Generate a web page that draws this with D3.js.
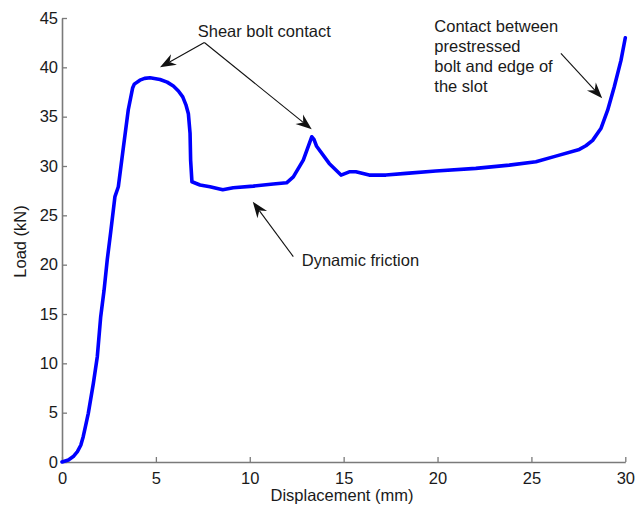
<!DOCTYPE html>
<html>
<head>
<meta charset="utf-8">
<script src="https://cdn.jsdelivr.net/npm/d3@7"></script>
<style>
  html, body { margin: 0; padding: 0; background: #fff; }
  svg { display: block; }
  text { font-family: "Liberation Sans", Arial, sans-serif; fill: #1a1a1a; }
</style>
</head>
<body>
<svg id="chart" width="636" height="507"></svg>
<script>
// ---- data ----
const displacement = [0, 0.34, 0.6, 0.82, 1.0, 1.13, 1.25, 1.40, 1.67, 1.88, 2.06, 2.24, 2.41, 2.6, 2.82, 3.0, 3.27, 3.53, 3.76,
  3.85, 4.15, 4.4, 4.69, 5.22, 5.6, 5.93, 6.2, 6.43, 6.6, 6.73, 6.82, 6.85, 6.92, 7.35, 7.88, 8.56, 9.12, 10.19, 11.25, 11.96,
  12.32, 12.85, 13.3, 13.42, 13.56, 14.23, 14.86, 15.30, 15.65, 16.36, 17.25, 18.32, 19.91, 22.04, 23.82, 25.24,
  26.3, 27.55, 27.9, 28.26, 28.7, 29.06, 29.41, 29.77, 30.0];
const load = [0, 0.2, 0.55, 1.05, 1.7, 2.57, 3.6, 4.93, 7.97, 10.67, 14.7, 17.4, 20.5, 23.4, 26.9, 27.9, 31.9, 35.7, 37.9,
  38.3, 38.7, 38.88, 38.94, 38.77, 38.5, 38.1, 37.6, 37.0, 36.2, 35.3, 33.3, 30.6, 28.4, 28.07, 27.9, 27.6, 27.8, 27.96, 28.17, 28.3,
  28.9, 30.6, 32.96, 32.7, 32.0, 30.26, 29.08, 29.41, 29.41, 29.08, 29.08, 29.25, 29.5, 29.76, 30.09, 30.43,
  31.0, 31.68, 32.05, 32.6, 33.8, 35.66, 38.0, 40.7, 43.0];
const xTicks = [0, 5, 10, 15, 20, 25, 30];
const yTicks = [0, 5, 10, 15, 20, 25, 30, 35, 40, 45];
const xLabel = "Displacement (mm)";
const yLabel = "Load (kN)";

// annotations in data units
const annotations = [
  { lines: ["Shear bolt contact"], tx: 7.23, ty: 43.12,
    arrows: [ { x0: 7.58, y0: 42.52, x1: 5.22, y1: 40.0 }, { x0: 7.58, y0: 42.52, x1: 13.30, y1: 33.72 } ] },
  { lines: ["Dynamic friction"], tx: 12.77, ty: 19.87,
    arrows: [ { x0: 12.32, y0: 20.81, x1: 10.16, y1: 26.38 } ] },
  { lines: ["Contact between", "prestressed", "bolt and edge of", "the slot"], tx: 19.83, ty: 43.61,
    arrows: [ { x0: 26.57, y0: 41.42, x1: 28.77, y1: 36.86 } ] }
];

// ---- layout ----
const svg = d3.select("#chart");
const x = d3.scaleLinear().domain([0, 30]).range([62, 625.3]);
const y = d3.scaleLinear().domain([0, 45]).range([462, 18]);
const fontSize = 16.5;
const axisColor = "#7a7a7a";

// axes
const xAxis = svg.append("g").attr("transform", `translate(0,${y(0)})`)
  .call(d3.axisBottom(x).tickValues(xTicks).tickSizeInner(-5).tickSizeOuter(0).tickPadding(10).tickFormat(d3.format("d")));
const yAxis = svg.append("g").attr("transform", `translate(${x(0)},0)`)
  .call(d3.axisLeft(y).tickValues(yTicks).tickSizeInner(-5).tickSizeOuter(0).tickPadding(4).tickFormat(d3.format("d")));
[xAxis, yAxis].forEach(g => {
  g.select(".domain").attr("stroke", axisColor).attr("stroke-width", 1.6);
  g.selectAll(".tick line").attr("stroke", axisColor).attr("stroke-width", 1.3);
  g.selectAll(".tick text").attr("font-size", fontSize).attr("font-family", "Liberation Sans, Arial, sans-serif").attr("fill", "#1a1a1a");
});

// axis labels
svg.append("text").attr("x", 342).attr("y", 501).attr("text-anchor", "middle")
  .attr("font-size", fontSize).text(xLabel);
svg.append("text").attr("transform", "translate(26,241.5) rotate(-90)").attr("text-anchor", "middle")
  .attr("font-size", fontSize).text(yLabel);

// curve
const pts = displacement.map((d, i) => [d, load[i]]);
svg.append("path").datum(pts)
  .attr("fill", "none").attr("stroke", "#0000ff").attr("stroke-width", 3.6)
  .attr("stroke-linejoin", "round").attr("stroke-linecap", "round")
  .attr("d", d3.line().x(d => x(d[0])).y(d => y(d[1])).curve(d3.curveLinear));

// annotations
const headLen = 16, headHalf = 6, notch = 11;
annotations.forEach(a => {
  const t = svg.append("text").attr("x", x(a.tx)).attr("y", y(a.ty)).attr("font-size", fontSize);
  a.lines.forEach((ln, i) => {
    t.append("tspan").attr("x", x(a.tx)).attr("dy", i === 0 ? 0 : "1.21em").text(ln);
  });
  a.arrows.forEach(ar => {
    const X0 = x(ar.x0), Y0 = y(ar.y0), X1 = x(ar.x1), Y1 = y(ar.y1);
    const dx = X1 - X0, dy = Y1 - Y0, L = Math.hypot(dx, dy);
    const ux = dx / L, uy = dy / L, px = -uy, py = ux;
    svg.append("line").attr("x1", X0).attr("y1", Y0)
      .attr("x2", X1 - ux * notch).attr("y2", Y1 - uy * notch)
      .attr("stroke", "#111").attr("stroke-width", 1.1);
    const bx = X1 - ux * headLen, by = Y1 - uy * headLen;
    const nx = X1 - ux * notch, ny = Y1 - uy * notch;
    svg.append("path")
      .attr("d", `M${X1},${Y1}L${bx + px * headHalf},${by + py * headHalf}L${nx},${ny}L${bx - px * headHalf},${by - py * headHalf}Z`)
      .attr("fill", "#111");
  });
});
</script>
</body>
</html>
